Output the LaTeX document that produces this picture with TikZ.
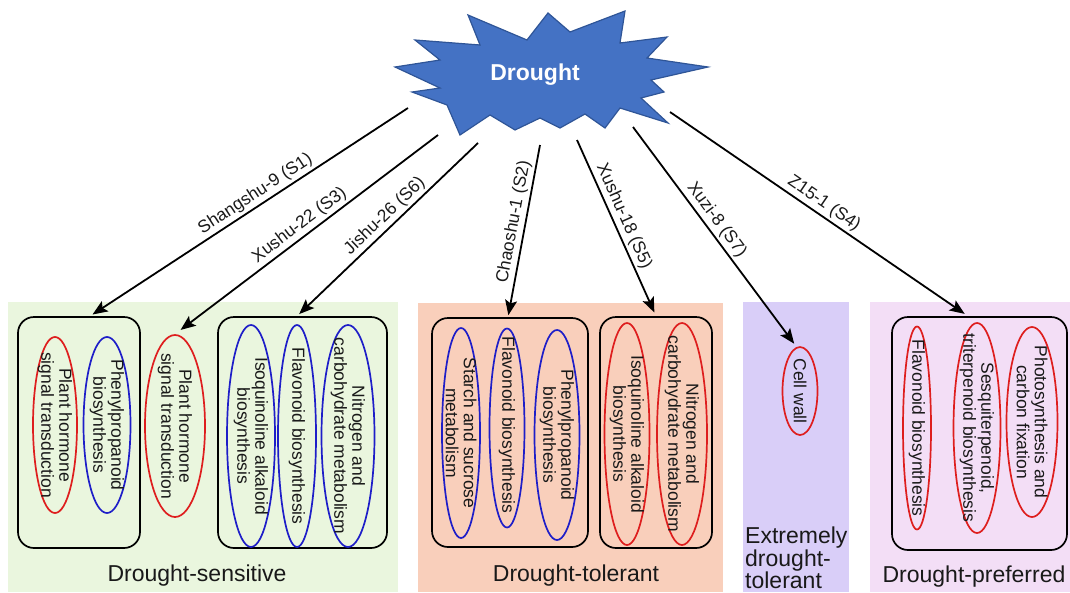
\documentclass[tikz,border=0pt]{standalone}
\usepackage{fontspec}
\setmainfont{Liberation Sans}
\usetikzlibrary{shapes.geometric,arrows.meta}
\definecolor{gbg}{RGB}{234,246,222}
\definecolor{obg}{RGB}{249,207,187}
\definecolor{vbg}{RGB}{217,206,248}
\definecolor{pbg}{RGB}{243,222,246}
\definecolor{ered}{RGB}{222,30,30}
\definecolor{eblue}{RGB}{30,30,200}
\definecolor{starfill}{RGB}{68,114,196}
\definecolor{starline}{RGB}{47,85,151}
\definecolor{ink}{RGB}{25,25,25}
\tikzset{
  pbox/.style={draw=black, line width=1.7pt, rounded corners=16pt, inner sep=0pt},
  pell/.style={ellipse, draw, line width=1.7pt, inner sep=0pt},
  etext/.style={rotate=-90, align=center, text=ink, inner sep=0pt, font=\fontsize{17.5}{18}\selectfont},
  cat/.style={text=ink, inner sep=0pt, font=\fontsize{23}{21}\selectfont},
  arr/.style={line width=1.8pt, -{Stealth[length=15pt,width=12pt,inset=3pt]}},
  alab/.style={sloped, above, text=ink, inner sep=2.5pt, font=\fontsize{17.5}{18}\selectfont}
}
\begin{document}
\begin{tikzpicture}[x=1pt,y=-1pt]
\useasboundingbox (0,0) rectangle (1070,592);
% panels
\fill[gbg] (8,302) rectangle (398,592);
\fill[obg] (418,303) rectangle (723,592);
\fill[vbg] (743,302) rectangle (849,592);
\fill[pbg] (870,302) rectangle (1070,592);
% star
\filldraw[fill=starfill, draw=starline, line width=1.2pt, line join=miter]
 (395,67) -- (440,60) -- (415,40) -- (480,45) -- (468,15) -- (527,40) -- (548,13) -- (570,32)
 -- (625,11) -- (620,43) -- (667,37) -- (647,58) -- (708,67) -- (651,80) -- (664,92) -- (641,98)
 -- (668,123) -- (620,108) -- (605,128) -- (585,114) -- (560,128) -- (540,118) -- (515,130)
 -- (490,115) -- (460,135) -- (447,105) -- (412,92) -- (440,88) -- cycle;
\node[text=white, font=\fontsize{23}{24}\selectfont\bfseries] (drought) at (535,75) {Drought};
% boxes
\node[pbox, minimum width=122pt, minimum height=231pt] (gs1) at (79,432.5) {};
\node[pbox, minimum width=169pt, minimum height=231pt] (gs3) at (302.5,432.5) {};
\node[pbox, minimum width=156pt, minimum height=229pt] (gt1) at (510,432.5) {};
\node[pbox, minimum width=112pt, minimum height=231pt] (gt2) at (656,432.5) {};
\node[pbox, minimum width=175pt, minimum height=233pt] (gp) at (979.5,433.5) {};
% ellipses: drought-sensitive
\node[pell, ered, minimum width=44pt, minimum height=176pt] (e11) at (55,425) {};
\node[etext] (e11t) at (e11) {Plant hormone\\signal transduction};
\node[pell, eblue, minimum width=47pt, minimum height=176pt] (e12) at (107,425) {};
\node[etext] (e12t) at (e12) {Phenylpropanoid\\biosynthesis};
\node[pell, ered, minimum width=60pt, minimum height=182pt] (e2) at (175,426) {};
\node[etext] (e2t) at (e2) {Plant hormone\\signal transduction};
\node[pell, eblue, minimum width=48pt, minimum height=222pt] (e31) at (251,436) {};
\node[etext] (e31t) at (e31) {Isoquinoline alkaloid\\biosynthesis};
\node[pell, eblue, minimum width=38pt, minimum height=222pt] (e32) at (297,436) {};
\node[etext] (e32t) at (e32) {Flavonoid biosynthesis};
\node[pell, eblue, minimum width=53pt, minimum height=222pt] (e33) at (348,436) {};
\node[etext] (e33t) at (e33) {Nitrogen and\\carbohydrate metabolism};
% drought-tolerant
\node[pell, eblue, minimum width=38pt, minimum height=210pt] (t11) at (461,433) {};
\node[etext] (t11t) at (t11) {Starch and sucrose\\metabolism};
\node[pell, eblue, minimum width=35pt, minimum height=199pt] (t12) at (507,428) {};
\node[etext] (t12t) at (507,425) {Flavonoid biosynthesis};
\node[pell, eblue, minimum width=45pt, minimum height=210pt] (t13) at (557,435) {};
\node[etext] (t13t) at (t13) {Phenylpropanoid\\biosynthesis};
\node[pell, ered, minimum width=45pt, minimum height=222pt] (t21) at (627,434) {};
\node[etext] (t21t) at (t21) {Isoquinoline alkaloid\\biosynthesis};
\node[pell, ered, minimum width=50pt, minimum height=222pt] (t22) at (682,434) {};
\node[etext] (t22t) at (t22) {Nitrogen and\\carbohydrate metabolism};
% extremely drought-tolerant
\node[pell, ered, minimum width=35pt, minimum height=88pt] (cw) at (800,391) {};
\node[etext] (cwt) at (cw) {Cell wall};
% drought-preferred
\node[pell, ered, minimum width=28pt, minimum height=203pt] (p1) at (917,428) {};
\node[etext] (p1t) at (p1) {Flavonoid biosynthesis};
\node[pell, ered, minimum width=47pt, minimum height=210pt] (p2) at (977,428) {};
\node[etext] (p2t) at (p2) {Sesquiterpenoid,\\triterpenoid biosynthesis};
\node[pell, ered, minimum width=51pt, minimum height=190pt] (p3) at (1032,422) {};
\node[etext] (p3t) at (p3) {Photosynthesis and\\carbon fixation};
% category labels
\node[cat] (lsens) at (197,576) {Drought-sensitive};
\node[cat] (ltol) at (576,576) {Drought-tolerant};
\node[cat, align=left, anchor=west] (lext) at (745,558) {Extremely\\drought-\\tolerant};
\node[cat] (lpref) at (974,577) {Drought-preferred};
% arrow start points on the star
\coordinate (s1) at (408,108);
\coordinate (s3) at (438,135);
\coordinate (s6) at (478,143);
\coordinate (s2) at (540,145);
\coordinate (s5) at (577,140);
\coordinate (s7) at (633,127);
\coordinate (s4) at (670,112);
% arrows
\draw[arr, shorten >=3pt] (s1) -- node[alab, pos=0.46] {Shangshu-9 (S1)} ([xshift=11pt]gs1.north);
\draw[arr, shorten >=7pt] (s3) -- node[alab, pos=0.5] {Xushu-22 (S3)} (e2.north);
\draw[arr, shorten >=3pt] (s6) -- node[alab, pos=0.47] {Jishu-26 (S6)} ([xshift=-5.5pt]gs3.north);
\draw[arr, shorten >=2pt] (s2) -- node[alab, pos=0.46] {Chaoshu-1 (S2)} ([xshift=-2pt]gt1.north);
\draw[arr, shorten >=4pt] (s5) -- node[alab, pos=0.46] {Xushu-18 (S5)} (gt2.north);
\draw[arr, shorten >=3pt] (s7) -- node[alab, pos=0.456] {Xuzi-8 (S7)} ([xshift=-4pt]cw.north);
\draw[arr, shorten >=4pt] (s4) -- node[alab, pos=0.495] {Z15-1 (S4)} ([xshift=-11.5pt]gp.north);
\end{tikzpicture}
\end{document}
